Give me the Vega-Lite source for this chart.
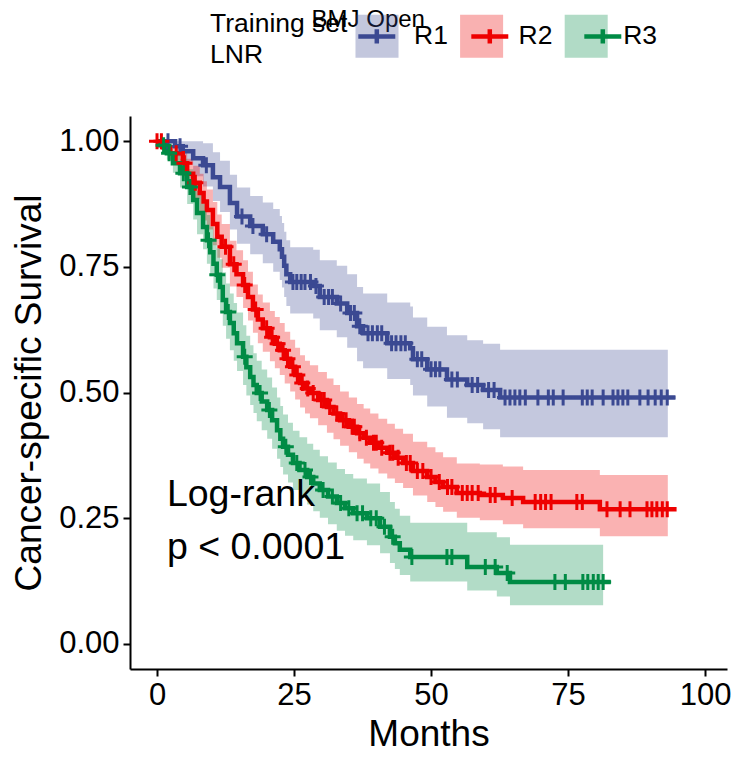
{
  "$schema": "https://vega.github.io/schema/vega-lite/v6.json",
  "width": 597,
  "height": 553,
  "autosize": {"type": "none"},
  "padding": {"left": 130, "top": 116, "right": 13, "bottom": 95},
  "background": "white",
  "config": {
    "view": {"stroke": null},
    "font": "Liberation Sans",
    "axis": {
      "grid": false,
      "domainColor": "black",
      "domainWidth": 2,
      "tickColor": "black",
      "tickWidth": 2,
      "tickSize": 7,
      "labelFontSize": 31,
      "labelColor": "black",
      "labelPadding": 4,
      "titleFontSize": 37,
      "titleFontWeight": "normal",
      "titleColor": "black"
    }
  },
  "datasets": {
    "band": [
      {"group": "R1", "t": 0, "upper": 1, "lower": 1},
      {"group": "R1", "t": 3.3, "upper": 1, "lower": 0.970},
      {"group": "R1", "t": 4.7, "upper": 1, "lower": 0.953},
      {"group": "R1", "t": 6.6, "upper": 1, "lower": 0.930},
      {"group": "R1", "t": 8.4, "upper": 0.996, "lower": 0.910},
      {"group": "R1", "t": 10.2, "upper": 0.978, "lower": 0.881},
      {"group": "R1", "t": 11.5, "upper": 0.961, "lower": 0.859},
      {"group": "R1", "t": 13.3, "upper": 0.933, "lower": 0.824},
      {"group": "R1", "t": 14.6, "upper": 0.908, "lower": 0.796},
      {"group": "R1", "t": 17.0, "upper": 0.891, "lower": 0.775},
      {"group": "R1", "t": 19.3, "upper": 0.878, "lower": 0.757},
      {"group": "R1", "t": 21.2, "upper": 0.865, "lower": 0.740},
      {"group": "R1", "t": 22.4, "upper": 0.851, "lower": 0.724},
      {"group": "R1", "t": 22.8, "upper": 0.837, "lower": 0.709},
      {"group": "R1", "t": 23.2, "upper": 0.820, "lower": 0.690},
      {"group": "R1", "t": 23.6, "upper": 0.803, "lower": 0.672},
      {"group": "R1", "t": 24.3, "upper": 0.789, "lower": 0.657},
      {"group": "R1", "t": 28.5, "upper": 0.784, "lower": 0.647},
      {"group": "R1", "t": 29.7, "upper": 0.763, "lower": 0.624},
      {"group": "R1", "t": 32.8, "upper": 0.752, "lower": 0.610},
      {"group": "R1", "t": 34.7, "upper": 0.735, "lower": 0.589},
      {"group": "R1", "t": 36.5, "upper": 0.710, "lower": 0.562},
      {"group": "R1", "t": 37.6, "upper": 0.697, "lower": 0.548},
      {"group": "R1", "t": 42.0, "upper": 0.679, "lower": 0.527},
      {"group": "R1", "t": 46.2, "upper": 0.671, "lower": 0.515},
      {"group": "R1", "t": 46.7, "upper": 0.649, "lower": 0.494},
      {"group": "R1", "t": 49.3, "upper": 0.631, "lower": 0.472},
      {"group": "R1", "t": 52.9, "upper": 0.614, "lower": 0.450},
      {"group": "R1", "t": 56.6, "upper": 0.604, "lower": 0.439},
      {"group": "R1", "t": 59.5, "upper": 0.597, "lower": 0.427},
      {"group": "R1", "t": 62.6, "upper": 0.585, "lower": 0.411},
      {"group": "R1", "t": 93.2, "upper": 0.585, "lower": 0.411},
      {"group": "R2", "t": 0, "upper": 1, "lower": 1},
      {"group": "R2", "t": 1.1, "upper": 0.996, "lower": 0.980},
      {"group": "R2", "t": 2.4, "upper": 0.991, "lower": 0.961},
      {"group": "R2", "t": 4.7, "upper": 0.983, "lower": 0.930},
      {"group": "R2", "t": 5.5, "upper": 0.965, "lower": 0.906},
      {"group": "R2", "t": 6.6, "upper": 0.951, "lower": 0.885},
      {"group": "R2", "t": 7.8, "upper": 0.935, "lower": 0.861},
      {"group": "R2", "t": 8.5, "upper": 0.920, "lower": 0.842},
      {"group": "R2", "t": 9.1, "upper": 0.904, "lower": 0.824},
      {"group": "R2", "t": 10.2, "upper": 0.879, "lower": 0.793},
      {"group": "R2", "t": 11.0, "upper": 0.854, "lower": 0.768},
      {"group": "R2", "t": 11.8, "upper": 0.835, "lower": 0.748},
      {"group": "R2", "t": 13.3, "upper": 0.802, "lower": 0.711},
      {"group": "R2", "t": 14.5, "upper": 0.783, "lower": 0.690},
      {"group": "R2", "t": 15.7, "upper": 0.763, "lower": 0.668},
      {"group": "R2", "t": 16.6, "upper": 0.740, "lower": 0.643},
      {"group": "R2", "t": 17.5, "upper": 0.715, "lower": 0.619},
      {"group": "R2", "t": 18.4, "upper": 0.695, "lower": 0.598},
      {"group": "R2", "t": 19.3, "upper": 0.679, "lower": 0.581},
      {"group": "R2", "t": 20.6, "upper": 0.662, "lower": 0.562},
      {"group": "R2", "t": 21.5, "upper": 0.650, "lower": 0.548},
      {"group": "R2", "t": 22.4, "upper": 0.638, "lower": 0.535},
      {"group": "R2", "t": 23.3, "upper": 0.621, "lower": 0.518},
      {"group": "R2", "t": 24.3, "upper": 0.605, "lower": 0.502},
      {"group": "R2", "t": 25.2, "upper": 0.589, "lower": 0.486},
      {"group": "R2", "t": 26.1, "upper": 0.574, "lower": 0.470},
      {"group": "R2", "t": 27.0, "upper": 0.563, "lower": 0.458},
      {"group": "R2", "t": 27.9, "upper": 0.554, "lower": 0.449},
      {"group": "R2", "t": 29.4, "upper": 0.541, "lower": 0.435},
      {"group": "R2", "t": 31.0, "upper": 0.528, "lower": 0.420},
      {"group": "R2", "t": 32.2, "upper": 0.515, "lower": 0.407},
      {"group": "R2", "t": 33.4, "upper": 0.502, "lower": 0.394},
      {"group": "R2", "t": 35.0, "upper": 0.490, "lower": 0.381},
      {"group": "R2", "t": 36.5, "upper": 0.477, "lower": 0.368},
      {"group": "R2", "t": 37.7, "upper": 0.468, "lower": 0.359},
      {"group": "R2", "t": 38.9, "upper": 0.458, "lower": 0.349},
      {"group": "R2", "t": 40.4, "upper": 0.448, "lower": 0.339},
      {"group": "R2", "t": 42.0, "upper": 0.438, "lower": 0.329},
      {"group": "R2", "t": 43.4, "upper": 0.428, "lower": 0.320},
      {"group": "R2", "t": 44.9, "upper": 0.418, "lower": 0.310},
      {"group": "R2", "t": 46.7, "upper": 0.402, "lower": 0.295},
      {"group": "R2", "t": 49.3, "upper": 0.391, "lower": 0.282},
      {"group": "R2", "t": 50.8, "upper": 0.381, "lower": 0.272},
      {"group": "R2", "t": 52.2, "upper": 0.371, "lower": 0.263},
      {"group": "R2", "t": 54.7, "upper": 0.359, "lower": 0.251},
      {"group": "R2", "t": 58.9, "upper": 0.357, "lower": 0.246},
      {"group": "R2", "t": 63.1, "upper": 0.353, "lower": 0.238},
      {"group": "R2", "t": 66.8, "upper": 0.346, "lower": 0.230},
      {"group": "R2", "t": 80.8, "upper": 0.336, "lower": 0.214},
      {"group": "R2", "t": 93.2, "upper": 0.336, "lower": 0.214},
      {"group": "R3", "t": 0, "upper": 1, "lower": 1},
      {"group": "R3", "t": 0.5, "upper": 0.996, "lower": 0.988},
      {"group": "R3", "t": 1.8, "upper": 0.989, "lower": 0.963},
      {"group": "R3", "t": 2.9, "upper": 0.975, "lower": 0.937},
      {"group": "R3", "t": 4.2, "upper": 0.965, "lower": 0.908},
      {"group": "R3", "t": 5.5, "upper": 0.944, "lower": 0.875},
      {"group": "R3", "t": 6.6, "upper": 0.924, "lower": 0.844},
      {"group": "R3", "t": 7.3, "upper": 0.901, "lower": 0.815},
      {"group": "R3", "t": 8.4, "upper": 0.876, "lower": 0.785},
      {"group": "R3", "t": 9.1, "upper": 0.853, "lower": 0.756},
      {"group": "R3", "t": 9.7, "upper": 0.830, "lower": 0.731},
      {"group": "R3", "t": 10.3, "upper": 0.808, "lower": 0.707},
      {"group": "R3", "t": 10.9, "upper": 0.787, "lower": 0.684},
      {"group": "R3", "t": 11.5, "upper": 0.765, "lower": 0.659},
      {"group": "R3", "t": 12.0, "upper": 0.739, "lower": 0.633},
      {"group": "R3", "t": 12.6, "upper": 0.717, "lower": 0.607},
      {"group": "R3", "t": 13.3, "upper": 0.697, "lower": 0.584},
      {"group": "R3", "t": 14.0, "upper": 0.678, "lower": 0.563},
      {"group": "R3", "t": 14.6, "upper": 0.659, "lower": 0.543},
      {"group": "R3", "t": 15.7, "upper": 0.634, "lower": 0.515},
      {"group": "R3", "t": 16.3, "upper": 0.613, "lower": 0.494},
      {"group": "R3", "t": 17.0, "upper": 0.594, "lower": 0.475},
      {"group": "R3", "t": 17.6, "upper": 0.578, "lower": 0.459},
      {"group": "R3", "t": 18.2, "upper": 0.563, "lower": 0.443},
      {"group": "R3", "t": 19.1, "upper": 0.546, "lower": 0.425},
      {"group": "R3", "t": 20.1, "upper": 0.530, "lower": 0.408},
      {"group": "R3", "t": 21.0, "upper": 0.510, "lower": 0.388},
      {"group": "R3", "t": 21.9, "upper": 0.490, "lower": 0.368},
      {"group": "R3", "t": 22.5, "upper": 0.473, "lower": 0.352},
      {"group": "R3", "t": 23.0, "upper": 0.456, "lower": 0.337},
      {"group": "R3", "t": 23.9, "upper": 0.440, "lower": 0.321},
      {"group": "R3", "t": 24.8, "upper": 0.424, "lower": 0.306},
      {"group": "R3", "t": 26.0, "upper": 0.411, "lower": 0.291},
      {"group": "R3", "t": 27.4, "upper": 0.398, "lower": 0.277},
      {"group": "R3", "t": 28.5, "upper": 0.386, "lower": 0.264},
      {"group": "R3", "t": 29.7, "upper": 0.373, "lower": 0.251},
      {"group": "R3", "t": 31.2, "upper": 0.361, "lower": 0.238},
      {"group": "R3", "t": 32.8, "upper": 0.348, "lower": 0.225},
      {"group": "R3", "t": 34.3, "upper": 0.338, "lower": 0.215},
      {"group": "R3", "t": 35.8, "upper": 0.329, "lower": 0.206},
      {"group": "R3", "t": 38.3, "upper": 0.319, "lower": 0.196},
      {"group": "R3", "t": 40.7, "upper": 0.302, "lower": 0.180},
      {"group": "R3", "t": 42.5, "upper": 0.282, "lower": 0.161},
      {"group": "R3", "t": 43.4, "upper": 0.269, "lower": 0.149},
      {"group": "R3", "t": 44.3, "upper": 0.255, "lower": 0.137},
      {"group": "R3", "t": 46.2, "upper": 0.241, "lower": 0.124},
      {"group": "R3", "t": 56.6, "upper": 0.222, "lower": 0.106},
      {"group": "R3", "t": 62.0, "upper": 0.212, "lower": 0.094},
      {"group": "R3", "t": 64.4, "upper": 0.197, "lower": 0.077},
      {"group": "R3", "t": 81.4, "upper": 0.197, "lower": 0.077}
    ],
    "curve": [
      {"group": "R1", "t": 0, "s": 1},
      {"group": "R1", "t": 3.3, "s": 0.99},
      {"group": "R1", "t": 4.7, "s": 0.98},
      {"group": "R1", "t": 6.6, "s": 0.966},
      {"group": "R1", "t": 8.4, "s": 0.952},
      {"group": "R1", "t": 10.2, "s": 0.928},
      {"group": "R1", "t": 11.5, "s": 0.909},
      {"group": "R1", "t": 13.3, "s": 0.877},
      {"group": "R1", "t": 14.6, "s": 0.85},
      {"group": "R1", "t": 17.0, "s": 0.831},
      {"group": "R1", "t": 19.3, "s": 0.815},
      {"group": "R1", "t": 21.2, "s": 0.80},
      {"group": "R1", "t": 22.4, "s": 0.785},
      {"group": "R1", "t": 22.8, "s": 0.77},
      {"group": "R1", "t": 23.2, "s": 0.752},
      {"group": "R1", "t": 23.6, "s": 0.735},
      {"group": "R1", "t": 24.3, "s": 0.72},
      {"group": "R1", "t": 28.5, "s": 0.712},
      {"group": "R1", "t": 29.7, "s": 0.69},
      {"group": "R1", "t": 32.8, "s": 0.677},
      {"group": "R1", "t": 34.7, "s": 0.658},
      {"group": "R1", "t": 36.5, "s": 0.632},
      {"group": "R1", "t": 37.6, "s": 0.618},
      {"group": "R1", "t": 42.0, "s": 0.598},
      {"group": "R1", "t": 46.2, "s": 0.588},
      {"group": "R1", "t": 46.7, "s": 0.566},
      {"group": "R1", "t": 49.3, "s": 0.546},
      {"group": "R1", "t": 52.9, "s": 0.526},
      {"group": "R1", "t": 56.6, "s": 0.515},
      {"group": "R1", "t": 59.5, "s": 0.505},
      {"group": "R1", "t": 62.6, "s": 0.49},
      {"group": "R1", "t": 94.6, "s": 0.49},
      {"group": "R2", "t": 0, "s": 1},
      {"group": "R2", "t": 1.1, "s": 0.988},
      {"group": "R2", "t": 2.4, "s": 0.976},
      {"group": "R2", "t": 4.7, "s": 0.956},
      {"group": "R2", "t": 5.5, "s": 0.935},
      {"group": "R2", "t": 6.6, "s": 0.917},
      {"group": "R2", "t": 7.8, "s": 0.897},
      {"group": "R2", "t": 8.5, "s": 0.88},
      {"group": "R2", "t": 9.1, "s": 0.863},
      {"group": "R2", "t": 10.2, "s": 0.835},
      {"group": "R2", "t": 11.0, "s": 0.81},
      {"group": "R2", "t": 11.8, "s": 0.79},
      {"group": "R2", "t": 13.3, "s": 0.755},
      {"group": "R2", "t": 14.5, "s": 0.735},
      {"group": "R2", "t": 15.7, "s": 0.714},
      {"group": "R2", "t": 16.6, "s": 0.69},
      {"group": "R2", "t": 17.5, "s": 0.665},
      {"group": "R2", "t": 18.4, "s": 0.645},
      {"group": "R2", "t": 19.3, "s": 0.628},
      {"group": "R2", "t": 20.6, "s": 0.61},
      {"group": "R2", "t": 21.5, "s": 0.597},
      {"group": "R2", "t": 22.4, "s": 0.584},
      {"group": "R2", "t": 23.3, "s": 0.567},
      {"group": "R2", "t": 24.3, "s": 0.551},
      {"group": "R2", "t": 25.2, "s": 0.535},
      {"group": "R2", "t": 26.1, "s": 0.519},
      {"group": "R2", "t": 27.0, "s": 0.508},
      {"group": "R2", "t": 27.9, "s": 0.499},
      {"group": "R2", "t": 29.4, "s": 0.485},
      {"group": "R2", "t": 31.0, "s": 0.471},
      {"group": "R2", "t": 32.2, "s": 0.458},
      {"group": "R2", "t": 33.4, "s": 0.445},
      {"group": "R2", "t": 35.0, "s": 0.432},
      {"group": "R2", "t": 36.5, "s": 0.419},
      {"group": "R2", "t": 37.7, "s": 0.41},
      {"group": "R2", "t": 38.9, "s": 0.40},
      {"group": "R2", "t": 40.4, "s": 0.39},
      {"group": "R2", "t": 42.0, "s": 0.38},
      {"group": "R2", "t": 43.4, "s": 0.37},
      {"group": "R2", "t": 44.9, "s": 0.36},
      {"group": "R2", "t": 46.7, "s": 0.344},
      {"group": "R2", "t": 49.3, "s": 0.332},
      {"group": "R2", "t": 50.8, "s": 0.322},
      {"group": "R2", "t": 52.2, "s": 0.312},
      {"group": "R2", "t": 54.7, "s": 0.30},
      {"group": "R2", "t": 58.9, "s": 0.296},
      {"group": "R2", "t": 63.1, "s": 0.29},
      {"group": "R2", "t": 66.8, "s": 0.282},
      {"group": "R2", "t": 80.8, "s": 0.268},
      {"group": "R2", "t": 94.8, "s": 0.268},
      {"group": "R3", "t": 0, "s": 1},
      {"group": "R3", "t": 0.5, "s": 0.992},
      {"group": "R3", "t": 1.8, "s": 0.976},
      {"group": "R3", "t": 2.9, "s": 0.956},
      {"group": "R3", "t": 4.2, "s": 0.936},
      {"group": "R3", "t": 5.5, "s": 0.909},
      {"group": "R3", "t": 6.6, "s": 0.883},
      {"group": "R3", "t": 7.3, "s": 0.857},
      {"group": "R3", "t": 8.4, "s": 0.829},
      {"group": "R3", "t": 9.1, "s": 0.803},
      {"group": "R3", "t": 9.7, "s": 0.779},
      {"group": "R3", "t": 10.3, "s": 0.756},
      {"group": "R3", "t": 10.9, "s": 0.734},
      {"group": "R3", "t": 11.5, "s": 0.71},
      {"group": "R3", "t": 12.0, "s": 0.684},
      {"group": "R3", "t": 12.6, "s": 0.66},
      {"group": "R3", "t": 13.3, "s": 0.638},
      {"group": "R3", "t": 14.0, "s": 0.618},
      {"group": "R3", "t": 14.6, "s": 0.598},
      {"group": "R3", "t": 15.7, "s": 0.571},
      {"group": "R3", "t": 16.3, "s": 0.55},
      {"group": "R3", "t": 17.0, "s": 0.531},
      {"group": "R3", "t": 17.6, "s": 0.515},
      {"group": "R3", "t": 18.2, "s": 0.499},
      {"group": "R3", "t": 19.1, "s": 0.482},
      {"group": "R3", "t": 20.1, "s": 0.465},
      {"group": "R3", "t": 21.0, "s": 0.445},
      {"group": "R3", "t": 21.9, "s": 0.425},
      {"group": "R3", "t": 22.5, "s": 0.408},
      {"group": "R3", "t": 23.0, "s": 0.392},
      {"group": "R3", "t": 23.9, "s": 0.376},
      {"group": "R3", "t": 24.8, "s": 0.36},
      {"group": "R3", "t": 26.0, "s": 0.346},
      {"group": "R3", "t": 27.4, "s": 0.332},
      {"group": "R3", "t": 28.5, "s": 0.319},
      {"group": "R3", "t": 29.7, "s": 0.306},
      {"group": "R3", "t": 31.2, "s": 0.293},
      {"group": "R3", "t": 32.8, "s": 0.28},
      {"group": "R3", "t": 34.3, "s": 0.27},
      {"group": "R3", "t": 35.8, "s": 0.26},
      {"group": "R3", "t": 38.3, "s": 0.25},
      {"group": "R3", "t": 40.7, "s": 0.233},
      {"group": "R3", "t": 42.5, "s": 0.213},
      {"group": "R3", "t": 43.4, "s": 0.20},
      {"group": "R3", "t": 44.3, "s": 0.187},
      {"group": "R3", "t": 46.2, "s": 0.173},
      {"group": "R3", "t": 56.6, "s": 0.153},
      {"group": "R3", "t": 62.0, "s": 0.141},
      {"group": "R3", "t": 64.4, "s": 0.123},
      {"group": "R3", "t": 82.8, "s": 0.123}
    ],
    "cens": [
      {"group": "R1", "t": 2.0, "s": 1},
      {"group": "R1", "t": 4.2, "s": 0.99},
      {"group": "R1", "t": 9.0, "s": 0.952},
      {"group": "R1", "t": 15.5, "s": 0.85},
      {"group": "R1", "t": 17.5, "s": 0.831},
      {"group": "R1", "t": 20.0, "s": 0.815},
      {"group": "R1", "t": 24.8, "s": 0.72},
      {"group": "R1", "t": 25.5, "s": 0.72},
      {"group": "R1", "t": 26.3, "s": 0.72},
      {"group": "R1", "t": 27.0, "s": 0.72},
      {"group": "R1", "t": 28.0, "s": 0.72},
      {"group": "R1", "t": 29.0, "s": 0.712},
      {"group": "R1", "t": 30.5, "s": 0.69},
      {"group": "R1", "t": 31.3, "s": 0.69},
      {"group": "R1", "t": 32.0, "s": 0.69},
      {"group": "R1", "t": 33.5, "s": 0.677},
      {"group": "R1", "t": 35.3, "s": 0.658},
      {"group": "R1", "t": 36.0, "s": 0.658},
      {"group": "R1", "t": 37.0, "s": 0.632},
      {"group": "R1", "t": 38.5, "s": 0.618},
      {"group": "R1", "t": 39.3, "s": 0.618},
      {"group": "R1", "t": 40.2, "s": 0.618},
      {"group": "R1", "t": 41.0, "s": 0.618},
      {"group": "R1", "t": 42.8, "s": 0.598},
      {"group": "R1", "t": 43.6, "s": 0.598},
      {"group": "R1", "t": 44.5, "s": 0.598},
      {"group": "R1", "t": 45.3, "s": 0.598},
      {"group": "R1", "t": 47.5, "s": 0.566},
      {"group": "R1", "t": 48.3, "s": 0.566},
      {"group": "R1", "t": 50.0, "s": 0.546},
      {"group": "R1", "t": 50.8, "s": 0.546},
      {"group": "R1", "t": 51.6, "s": 0.546},
      {"group": "R1", "t": 53.8, "s": 0.526},
      {"group": "R1", "t": 54.8, "s": 0.526},
      {"group": "R1", "t": 57.5, "s": 0.515},
      {"group": "R1", "t": 58.5, "s": 0.515},
      {"group": "R1", "t": 60.5, "s": 0.505},
      {"group": "R1", "t": 61.5, "s": 0.505},
      {"group": "R1", "t": 63.5, "s": 0.49},
      {"group": "R1", "t": 64.4, "s": 0.49},
      {"group": "R1", "t": 65.3, "s": 0.49},
      {"group": "R1", "t": 66.2, "s": 0.49},
      {"group": "R1", "t": 67.2, "s": 0.49},
      {"group": "R1", "t": 69.5, "s": 0.49},
      {"group": "R1", "t": 71.4, "s": 0.49},
      {"group": "R1", "t": 72.3, "s": 0.49},
      {"group": "R1", "t": 74.1, "s": 0.49},
      {"group": "R1", "t": 77.6, "s": 0.49},
      {"group": "R1", "t": 78.5, "s": 0.49},
      {"group": "R1", "t": 79.4, "s": 0.49},
      {"group": "R1", "t": 81.4, "s": 0.49},
      {"group": "R1", "t": 83.2, "s": 0.49},
      {"group": "R1", "t": 84.1, "s": 0.49},
      {"group": "R1", "t": 85.0, "s": 0.49},
      {"group": "R1", "t": 85.9, "s": 0.49},
      {"group": "R1", "t": 88.1, "s": 0.49},
      {"group": "R1", "t": 89.6, "s": 0.49},
      {"group": "R1", "t": 90.9, "s": 0.49},
      {"group": "R1", "t": 92.0, "s": 0.49},
      {"group": "R1", "t": 93.1, "s": 0.49},
      {"group": "R2", "t": 0.0, "s": 1},
      {"group": "R2", "t": 0.8, "s": 1},
      {"group": "R2", "t": 3.5, "s": 0.976},
      {"group": "R2", "t": 5.0, "s": 0.956},
      {"group": "R2", "t": 7.0, "s": 0.917},
      {"group": "R2", "t": 12.5, "s": 0.79},
      {"group": "R2", "t": 14.0, "s": 0.755},
      {"group": "R2", "t": 16.0, "s": 0.714},
      {"group": "R2", "t": 18.0, "s": 0.665},
      {"group": "R2", "t": 20.0, "s": 0.628},
      {"group": "R2", "t": 21.0, "s": 0.61},
      {"group": "R2", "t": 22.0, "s": 0.597},
      {"group": "R2", "t": 23.0, "s": 0.584},
      {"group": "R2", "t": 23.8, "s": 0.567},
      {"group": "R2", "t": 24.8, "s": 0.551},
      {"group": "R2", "t": 25.6, "s": 0.535},
      {"group": "R2", "t": 26.5, "s": 0.519},
      {"group": "R2", "t": 27.5, "s": 0.508},
      {"group": "R2", "t": 28.5, "s": 0.499},
      {"group": "R2", "t": 30.0, "s": 0.485},
      {"group": "R2", "t": 30.5, "s": 0.485},
      {"group": "R2", "t": 31.5, "s": 0.471},
      {"group": "R2", "t": 32.8, "s": 0.458},
      {"group": "R2", "t": 34.0, "s": 0.445},
      {"group": "R2", "t": 34.5, "s": 0.445},
      {"group": "R2", "t": 35.6, "s": 0.432},
      {"group": "R2", "t": 36.0, "s": 0.432},
      {"group": "R2", "t": 37.0, "s": 0.419},
      {"group": "R2", "t": 38.2, "s": 0.41},
      {"group": "R2", "t": 39.5, "s": 0.40},
      {"group": "R2", "t": 40.0, "s": 0.40},
      {"group": "R2", "t": 41.0, "s": 0.39},
      {"group": "R2", "t": 42.5, "s": 0.38},
      {"group": "R2", "t": 43.0, "s": 0.38},
      {"group": "R2", "t": 44.0, "s": 0.37},
      {"group": "R2", "t": 45.5, "s": 0.36},
      {"group": "R2", "t": 46.2, "s": 0.36},
      {"group": "R2", "t": 47.5, "s": 0.344},
      {"group": "R2", "t": 48.5, "s": 0.344},
      {"group": "R2", "t": 50.0, "s": 0.332},
      {"group": "R2", "t": 51.5, "s": 0.322},
      {"group": "R2", "t": 53.0, "s": 0.312},
      {"group": "R2", "t": 53.8, "s": 0.312},
      {"group": "R2", "t": 55.7, "s": 0.30},
      {"group": "R2", "t": 56.6, "s": 0.30},
      {"group": "R2", "t": 57.5, "s": 0.30},
      {"group": "R2", "t": 58.6, "s": 0.30},
      {"group": "R2", "t": 60.8, "s": 0.296},
      {"group": "R2", "t": 61.7, "s": 0.296},
      {"group": "R2", "t": 64.8, "s": 0.29},
      {"group": "R2", "t": 69.0, "s": 0.282},
      {"group": "R2", "t": 70.0, "s": 0.282},
      {"group": "R2", "t": 70.9, "s": 0.282},
      {"group": "R2", "t": 71.9, "s": 0.282},
      {"group": "R2", "t": 76.6, "s": 0.282},
      {"group": "R2", "t": 77.6, "s": 0.282},
      {"group": "R2", "t": 82.1, "s": 0.268},
      {"group": "R2", "t": 84.5, "s": 0.268},
      {"group": "R2", "t": 86.3, "s": 0.268},
      {"group": "R2", "t": 89.4, "s": 0.268},
      {"group": "R2", "t": 90.3, "s": 0.268},
      {"group": "R2", "t": 91.2, "s": 0.268},
      {"group": "R2", "t": 92.2, "s": 0.268},
      {"group": "R2", "t": 93.1, "s": 0.268},
      {"group": "R3", "t": 1.2, "s": 0.992},
      {"group": "R3", "t": 2.2, "s": 0.976},
      {"group": "R3", "t": 4.8, "s": 0.936},
      {"group": "R3", "t": 6.0, "s": 0.909},
      {"group": "R3", "t": 9.4, "s": 0.803},
      {"group": "R3", "t": 11.0, "s": 0.734},
      {"group": "R3", "t": 13.0, "s": 0.66},
      {"group": "R3", "t": 16.0, "s": 0.571},
      {"group": "R3", "t": 18.8, "s": 0.499},
      {"group": "R3", "t": 20.5, "s": 0.465},
      {"group": "R3", "t": 23.5, "s": 0.392},
      {"group": "R3", "t": 25.5, "s": 0.36},
      {"group": "R3", "t": 27.0, "s": 0.346},
      {"group": "R3", "t": 28.0, "s": 0.332},
      {"group": "R3", "t": 30.3, "s": 0.306},
      {"group": "R3", "t": 32.0, "s": 0.293},
      {"group": "R3", "t": 33.5, "s": 0.28},
      {"group": "R3", "t": 35.0, "s": 0.27},
      {"group": "R3", "t": 36.5, "s": 0.26},
      {"group": "R3", "t": 37.5, "s": 0.26},
      {"group": "R3", "t": 39.0, "s": 0.25},
      {"group": "R3", "t": 40.0, "s": 0.25},
      {"group": "R3", "t": 41.5, "s": 0.233},
      {"group": "R3", "t": 43.0, "s": 0.213},
      {"group": "R3", "t": 46.5, "s": 0.173},
      {"group": "R3", "t": 52.9, "s": 0.173},
      {"group": "R3", "t": 53.8, "s": 0.173},
      {"group": "R3", "t": 59.9, "s": 0.153},
      {"group": "R3", "t": 61.7, "s": 0.153},
      {"group": "R3", "t": 63.9, "s": 0.141},
      {"group": "R3", "t": 72.6, "s": 0.123},
      {"group": "R3", "t": 74.5, "s": 0.123},
      {"group": "R3", "t": 77.7, "s": 0.123},
      {"group": "R3", "t": 78.6, "s": 0.123},
      {"group": "R3", "t": 79.6, "s": 0.123},
      {"group": "R3", "t": 80.5, "s": 0.123},
      {"group": "R3", "t": 81.4, "s": 0.123}
    ],
    "note": [
      {"t": 1.8, "s": 0.296, "label": "Log-rank\np < 0.0001"}
    ],
    "mark": [
      {"t": 28.2, "s": 1.2266, "label": "BMJ Open"}
    ]
  },
  "layer": [
    {
      "data": {"name": "band"},
      "mark": {"type": "area", "interpolate": "step-after", "opacity": 0.3},
      "encoding": {
        "x": {
          "field": "t", "type": "quantitative",
          "scale": {"domain": [-4.93, 104], "nice": false, "zero": false},
          "axis": {"values": [0, 25, 50, 75, 100], "title": "Months", "titlePadding": 6, "labelFlush": false}
        },
        "y": {
          "field": "upper", "type": "quantitative",
          "scale": {"domain": [-0.05, 1.05], "nice": false, "zero": false},
          "axis": {"values": [0, 0.25, 0.5, 0.75, 1], "format": ".2f", "title": "Cancer-specific Survival", "titlePadding": 10, "labelFlush": false}
        },
        "y2": {"field": "lower"},
        "fill": {
          "field": "group", "type": "nominal",
          "scale": {"range": ["#3B4992", "#EE0000", "#008B45"]},
          "legend": {
            "orient": "none", "legendX": 80, "legendY": -104, "direction": "horizontal",
            "title": ["Training set", "LNR"], "titleOrient": "left", "titleFontSize": 26.5,
            "titleFontWeight": "normal", "titleColor": "black", "titleAlign": "left", "titleLimit": 300,
            "titlePadding": 5, "titleLineHeight": 31,
            "symbolType": "square", "symbolSize": 1849, "symbolOpacity": 0.3,
            "symbolStrokeWidth": 4.5, "symbolStrokeColor": "transparent",
            "labelFontSize": 26.5, "labelColor": "black", "labelOffset": 13, "columnPadding": 2.6, "padding": 0
          }
        }
      }
    },
    {
      "data": {"name": "curve"},
      "mark": {"type": "line", "interpolate": "step-after", "strokeWidth": 4.5},
      "encoding": {
        "x": {"field": "t", "type": "quantitative"},
        "y": {"field": "s", "type": "quantitative"},
        "stroke": {
          "field": "group", "type": "nominal",
          "scale": {"range": ["#3B4992", "#EE0000", "#008B45"]},
          "legend": {
            "orient": "none", "legendX": 222.8, "legendY": -104, "direction": "horizontal",
            "title": null,
            "symbolType": "M-0.86,0H0.86M0,-0.33V0.33", "symbolSize": 1849, "symbolStrokeWidth": 4.5,
            "symbolFillColor": "transparent", "symbolOpacity": 1,
            "labelExpr": "''", "labelFontSize": 26.5, "labelOffset": 0, "columnPadding": 57, "padding": 0
          }
        }
      }
    },
    {
      "data": {"name": "cens"},
      "mark": {"type": "point", "shape": "M-1,0H1M0,-1V1", "size": 256, "strokeWidth": 3, "filled": false, "opacity": 1},
      "encoding": {
        "x": {"field": "t", "type": "quantitative"},
        "y": {"field": "s", "type": "quantitative"},
        "stroke": {"field": "group", "type": "nominal"}
      }
    },
    {
      "data": {"name": "note"},
      "mark": {"type": "text", "align": "left", "baseline": "middle", "fontSize": 37.5, "lineBreak": "\n", "lineHeight": 53, "color": "black", "font": "Liberation Sans"},
      "encoding": {
        "x": {"field": "t", "type": "quantitative"},
        "y": {"field": "s", "type": "quantitative"},
        "text": {"field": "label"}
      }
    },
    {
      "data": {"name": "mark"},
      "mark": {"type": "text", "align": "left", "baseline": "alphabetic", "fontSize": 24, "color": "black", "font": "Liberation Sans", "clip": false},
      "encoding": {
        "x": {"field": "t", "type": "quantitative"},
        "y": {"field": "s", "type": "quantitative"},
        "text": {"field": "label"}
      }
    }
  ]
}
